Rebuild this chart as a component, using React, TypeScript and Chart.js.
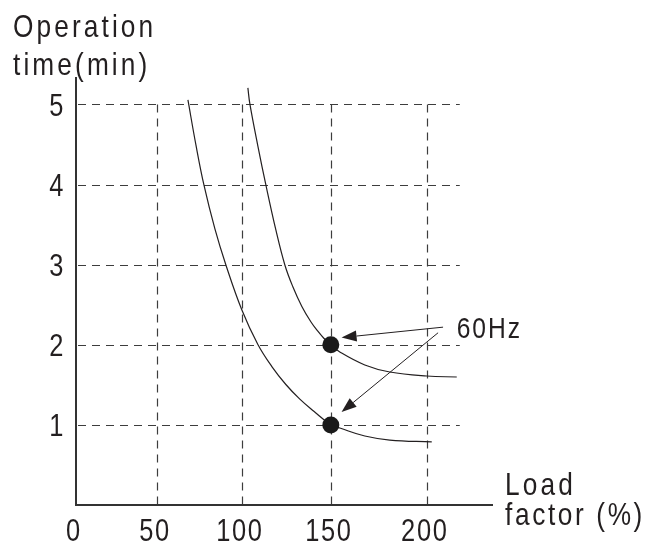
import React, { useEffect, useRef } from "react";
import { Chart, LinearScale, registerables } from "chart.js";

// ---- Data ----
const X_TICKS = [0, 50, 100, 150, 200];
const Y_TICKS = [1, 2, 3, 4, 5];

// lower curve (x = load factor %, y = operation time in min)
const LOWER_X = [68.24, 72.94, 77.65, 84.12, 90.59, 100.0, 108.99, 116.85, 124.72, 132.58, 140.45, 150, 154.69, 167.71, 180.73, 202.6];
const LOWER_Y = [5.056, 4.494, 3.995, 3.446, 2.996, 2.434, 2.004, 1.728, 1.504, 1.321, 1.17, 1.0, 0.961, 0.861, 0.811, 0.787];

// upper curve
const UPPER_X = [103.37, 104.49, 108.99, 113.48, 119.1, 124.16, 128.65, 133.71, 138.76, 142.7, 146.07, 150, 154.69, 167.71, 180.73, 200, 215.63];
const UPPER_Y = [5.206, 5.006, 4.48, 3.995, 3.433, 2.996, 2.724, 2.479, 2.288, 2.169, 2.081, 2.0, 1.91, 1.748, 1.66, 1.61, 1.598];

// marked points
const DOT_X = [150, 150];
const DOT_Y = [2, 1];

// annotation: "60Hz" with two arrows (data coordinates)
const LABEL_TEXT = "60Hz";
const LABEL_AT = { x: 215.6, y: 2.19 };
const ARROWS = [
  { fromX: 208.5, fromY: 2.22, toX: 155.6, toY: 2.09 },
  { fromX: 205.9, fromY: 2.15, toX: 155.6, toY: 1.16 },
];

// axis titles
const Y_TITLE = ["Operation", "time(min)"];
const X_TITLE = ["Load", "factor (%)"];

// grid extent (data coordinates)
const GRID_X_END = 217.2;
const GRID_Y_END = 5;
const X_MAX = 234;
const Y_MAX = 5.33;

// relative spacing of the hand-drawn x axis between successive ticks
const X_SEG_WEIGHTS = [81, 85, 89, 96];

const FONT_FAMILY = '"Liberation Sans", Arial, sans-serif';
const TEXT_SX = 0.82; // narrow face (Arial Narrow style)
const INK = "#231f20";

// ---- text helpers ----
function drawNarrow(
  ctx: CanvasRenderingContext2D,
  text: string,
  x: number,
  y: number,
  spacing: number
) {
  ctx.save();
  ctx.translate(x, y);
  ctx.scale(TEXT_SX, 1);
  (ctx as any).letterSpacing = spacing + "px";
  ctx.fillText(text, 0, 0);
  ctx.restore();
}

// ---- scales: narrow labels, and warped x spacing of the original drawing ----
class NarrowLinearScale extends LinearScale {
  static id = "narrowLinear";
  static defaults = (LinearScale as any).defaults;
  drawLabels(chartArea: any) {
    const s = this as any;
    const opts = s.options.ticks;
    if (!opts.display) return;
    const ctx: CanvasRenderingContext2D = s.ctx;
    const items = s.getLabelItems(chartArea);
    for (const item of items) {
      const o = item.options;
      ctx.save();
      ctx.translate(o.translation[0], o.translation[1]);
      if (o.rotation) ctx.rotate(o.rotation);
      ctx.scale(TEXT_SX, 1);
      ctx.font = item.font.string;
      ctx.fillStyle = o.color;
      ctx.textAlign = o.textAlign;
      ctx.textBaseline = o.textBaseline;
      (ctx as any).letterSpacing = "2px";
      const lines = Array.isArray(item.label) ? item.label : [item.label];
      let y = item.textOffset;
      for (const line of lines) {
        ctx.fillText(String(line), 0, y);
        y += item.font.lineHeight;
      }
      ctx.restore();
    }
  }
}

function warpCum(v: number): number {
  const step = 50;
  let acc = 0;
  for (let i = 0; i < X_SEG_WEIGHTS.length; i++) {
    const lo = i * step;
    if (v <= lo + step || i === X_SEG_WEIGHTS.length - 1) {
      return acc + ((v - lo) / step) * X_SEG_WEIGHTS[i];
    }
    acc += X_SEG_WEIGHTS[i];
  }
  return acc;
}
function unwarpCum(c: number): number {
  const step = 50;
  let acc = 0;
  for (let i = 0; i < X_SEG_WEIGHTS.length; i++) {
    const w = X_SEG_WEIGHTS[i];
    if (c <= acc + w || i === X_SEG_WEIGHTS.length - 1) {
      return i * step + ((c - acc) / w) * step;
    }
    acc += w;
  }
  return 0;
}

class WarpedScale extends NarrowLinearScale {
  static id = "warped";
  static defaults = (LinearScale as any).defaults;
  getPixelForValue(value: number) {
    if (value === null || value === undefined || isNaN(value)) return NaN;
    const s = this as any;
    const c0 = warpCum(s.min);
    const c1 = warpCum(s.max);
    return s.getPixelForDecimal((warpCum(value) - c0) / (c1 - c0));
  }
  getValueForPixel(pixel: number) {
    const s = this as any;
    const c0 = warpCum(s.min);
    const c1 = warpCum(s.max);
    return unwarpCum(c0 + s.getDecimalForPixel(pixel) * (c1 - c0));
  }
}

Chart.register(...registerables, NarrowLinearScale as any, WarpedScale as any);

const gridPlugin = {
  id: "handGrid",
  beforeDatasetsDraw(chart: any) {
    const { ctx } = chart;
    const xs = chart.scales.x;
    const ys = chart.scales.y;
    ctx.save();
    ctx.strokeStyle = "#3d3d3d";
    ctx.lineWidth = 1.2;
    ctx.setLineDash([8, 6]);
    const x0 = xs.getPixelForValue(0);
    const x1 = xs.getPixelForValue(GRID_X_END);
    Y_TICKS.forEach((v) => {
      const y = Math.round(ys.getPixelForValue(v)) + 0.5;
      ctx.beginPath();
      ctx.moveTo(x0 + 2, y);
      ctx.lineTo(x1, y);
      ctx.stroke();
    });
    const yb = ys.getPixelForValue(0);
    const yt = ys.getPixelForValue(GRID_Y_END);
    X_TICKS.filter((v) => v > 0).forEach((v) => {
      const x = Math.round(xs.getPixelForValue(v)) + 0.5;
      ctx.beginPath();
      ctx.moveTo(x, yt);
      ctx.lineTo(x, yb - 1);
      ctx.stroke();
    });
    ctx.restore();
  },
};

const annotationPlugin = {
  id: "notes",
  afterDatasetsDraw(chart: any) {
    const { ctx, chartArea } = chart;
    const xs = chart.scales.x;
    const ys = chart.scales.y;
    ctx.save();
    ctx.strokeStyle = INK;
    ctx.fillStyle = INK;
    ctx.lineWidth = 1;
    ARROWS.forEach((a) => {
      const fx = xs.getPixelForValue(a.fromX);
      const fy = ys.getPixelForValue(a.fromY);
      const tx = xs.getPixelForValue(a.toX);
      const ty = ys.getPixelForValue(a.toY);
      const ang = Math.atan2(ty - fy, tx - fx);
      const len = 15;
      const half = 5.5;
      const bx = tx - Math.cos(ang) * len;
      const by = ty - Math.sin(ang) * len;
      ctx.beginPath();
      ctx.moveTo(fx, fy);
      ctx.lineTo(bx, by);
      ctx.stroke();
      ctx.beginPath();
      ctx.moveTo(tx, ty);
      ctx.lineTo(bx + Math.sin(ang) * half, by - Math.cos(ang) * half);
      ctx.lineTo(bx - Math.sin(ang) * half, by + Math.cos(ang) * half);
      ctx.closePath();
      ctx.fill();
    });
    ctx.font = "30px " + FONT_FAMILY;
    ctx.textAlign = "left";
    ctx.textBaseline = "middle";
    drawNarrow(ctx, LABEL_TEXT, xs.getPixelForValue(LABEL_AT.x), ys.getPixelForValue(LABEL_AT.y), 2.4);

    // axis titles
    ctx.font = "32px " + FONT_FAMILY;
    ctx.textBaseline = "alphabetic";
    drawNarrow(ctx, Y_TITLE[0], 13, 37, 3.8);
    drawNarrow(ctx, Y_TITLE[1], 13, 75, 3.8);
    drawNarrow(ctx, X_TITLE[0], chartArea.right + 13, 495, 3.9);
    drawNarrow(ctx, X_TITLE[1], chartArea.right + 13, 525, 3.2);
    ctx.restore();
  },
};

export default function App() {
  const ref = useRef<HTMLCanvasElement | null>(null);
  useEffect(() => {
    document.body.style.margin = "0";
    const canvas = ref.current;
    if (!canvas) return;
    const toPts = (xs: number[], ys: number[]) => xs.map((x, i) => ({ x, y: ys[i] }));
    const tickFont = { family: FONT_FAMILY, size: 31 };
    const chart = new Chart(canvas, {
      type: "line",
      data: {
        datasets: [
          {
            type: "scatter",
            data: toPts(DOT_X, DOT_Y),
            pointRadius: 8.5,
            pointBackgroundColor: "#1a1a1a",
            pointBorderWidth: 0,
            order: 0,
          } as any,
          {
            data: toPts(LOWER_X, LOWER_Y),
            borderColor: INK,
            borderWidth: 1.2,
            pointRadius: 0,
            tension: 0.4,
            fill: false,
            order: 1,
          },
          {
            data: toPts(UPPER_X, UPPER_Y),
            borderColor: INK,
            borderWidth: 1.2,
            pointRadius: 0,
            tension: 0.4,
            fill: false,
            order: 1,
          },
        ],
      },
      options: {
        animation: false,
        responsive: false,
        devicePixelRatio: 1,
        layout: { padding: { left: 0, top: 78, right: 154, bottom: 0 } },
        plugins: { legend: { display: false }, tooltip: { enabled: false } },
        events: [],
        scales: {
          x: {
            type: "warped" as any,
            min: 0,
            max: X_MAX,
            grid: { display: false, drawTicks: false },
            border: { display: true, color: "#333", width: 2 },
            ticks: {
              stepSize: 50,
              autoSkip: false,
              maxRotation: 0,
              font: tickFont,
              color: INK,
              padding: 9,
              labelOffset: -2,
            },
            afterBuildTicks: (s: any) => {
              s.ticks = X_TICKS.map((v) => ({ value: v }));
            },
            afterFit: (s: any) => {
              s.height = 40;
            },
          },
          y: {
            type: "narrowLinear" as any,
            min: 0,
            max: Y_MAX,
            grid: { display: false, drawTicks: false },
            border: { display: true, color: "#333", width: 2 },
            ticks: {
              autoSkip: false,
              font: tickFont,
              color: INK,
              padding: 11,
              labelOffset: 3,
            },
            afterBuildTicks: (s: any) => {
              s.ticks = Y_TICKS.map((v) => ({ value: v }));
            },
            afterFit: (s: any) => {
              s.width = 76;
            },
          },
        },
      } as any,
      plugins: [gridPlugin, annotationPlugin],
    });
    return () => chart.destroy();
  }, []);
  return <canvas ref={ref} width={646} height={545} style={{ display: "block" }} />;
}
